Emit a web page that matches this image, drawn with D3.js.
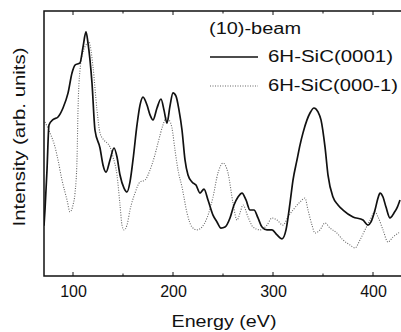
<!DOCTYPE html>
<html>
<head>
<meta charset="utf-8">
<script src="https://cdn.jsdelivr.net/npm/d3@7"></script>
<style>
  html, body { margin: 0; padding: 0; background: #fff; }
  svg { display: block; font-family: "Liberation Sans", Arial, Helvetica, sans-serif; }
</style>
</head>
<body>
<div id="chart"></div>
<script>
// energies (eV) and intensities (arb. units, 0..100)
const energy0001 = [71, 72, 74, 76, 80, 85, 90, 95, 99, 102, 107, 110, 113, 115, 119, 122, 127, 130, 133, 137,
  141, 144, 147, 151, 154, 157, 160, 164, 167, 170, 174, 177, 180, 184, 188, 191, 194, 197, 200, 203,
  206, 209, 212, 215, 219, 223, 227, 231, 235, 240, 244, 248, 252, 257, 261, 265, 269, 273, 277, 281,
  285, 289, 294, 299, 304, 309, 313, 317, 320, 324, 327, 330, 334, 337, 341, 345, 348, 352, 355, 360,
  365, 370, 380, 390, 395, 398, 402, 405, 407, 410, 413, 417, 421, 424, 427]
const intensity0001 = [19, 25, 40, 57, 59, 60, 63.4, 69, 76.6, 79.6, 80.4, 86.4, 92.1, 87.9, 72.8, 55, 48.3, 41.9, 39.2, 43.8,
  48.3, 44.9, 38.1, 33.2, 31.7, 35.5, 43.8, 57, 64.5, 67.5, 64.5, 60.8, 58.9, 63.4, 66.8, 62.6, 57.7, 64.2, 69.1, 67.9,
  62.6, 55.1, 43.8, 38.1, 35.5, 34.3, 31.3, 32.8, 28.7, 23, 20.4, 18.1, 18.5, 21.9, 26.8, 29.8, 31.3, 28.7, 24.9, 24.9,
  21.9, 18.5, 17.4, 17.4, 15.5, 14, 17.4, 27.5, 36.2, 43.8, 49.4, 54, 58.9, 61.5, 63.4, 61.9, 58.9, 48.7, 38.1, 29.8,
  26.8, 24.9, 22.3, 21.1, 19.2, 20.4, 24.9, 29.4, 31.3, 29.8, 26, 21.9, 23.8, 25.7, 28.7]

const energy0001m = [72, 77, 82, 85, 89, 94, 97, 100, 102, 104, 105, 107, 110, 113, 116, 120, 124, 127, 131, 134,
  137, 140, 144, 147, 149, 151, 154, 157, 162, 167, 172, 177, 181, 185, 190, 193, 196, 199, 202, 205,
  209, 214, 219, 224, 229, 234, 240, 245, 250, 255, 260, 264, 267, 270, 275, 280, 287, 294, 299, 304,
  310, 315, 320, 327, 332, 335, 339, 342, 347, 352, 357, 364, 370, 377, 382, 387, 392, 397, 402, 405,
  410, 415, 420, 427]
const intensity0001m = [58.1, 54, 48.7, 43.8, 36.2, 28.7, 24.2, 26.8, 31.3, 43.8, 62.6, 77.7, 84.5, 87.2, 88.3, 78.9, 62.6, 54, 51.3, 50.2,
  48.7, 44.9, 38.1, 26.8, 19.2, 17.4, 19.2, 24.9, 31.3, 35.5, 36.2, 40, 44.5, 50.2, 57, 59.6, 58.9, 55.8, 47.5, 40,
  33.6, 23.8, 18.5, 17.4, 18.5, 21.9, 29.8, 38.9, 42.6, 38.9, 27.5, 21.1, 23.8, 26.8, 22.3, 18.5, 17.4, 19.2, 21.9, 21.1,
  19.2, 22.3, 24.9, 27.9, 29.4, 24.9, 19.2, 16.2, 17.4, 20, 18.1, 16.2, 13.6, 11.7, 10.6, 13.6, 17.4, 21.1, 24.2, 22.3,
  17.4, 12.8, 14.7, 16.6]

const xTickValues = [100, 200, 300, 400]
const xMinorTicks = [150, 250, 350]
const legendTitle = '(10)-beam'
const seriesNames = ['6H-SiC(0001)', '6H-SiC(000-1)']

const W = 401, H = 332
const m = { left: 44, right: 400, top: 11, bottom: 276 }

const x = d3.scaleLinear().domain([71, 427]).range([m.left, m.right])
const y = d3.scaleLinear().domain([0, 100]).range([m.bottom, m.top])

const svg = d3.select('#chart').append('svg')
  .attr('width', W).attr('height', H)

svg.append('defs').append('clipPath').attr('id', 'plot')
  .append('rect').attr('x', m.left).attr('y', m.top).attr('width', W - m.left).attr('height', m.bottom - m.top)

const line = d3.line().curve(d3.curveMonotoneX)
  .x(d => x(d[0])).y(d => y(d[1]))

const g = svg.append('g').attr('clip-path', 'url(#plot)')

g.append('path')
  .datum(d3.zip(energy0001m, intensity0001m))
  .attr('d', line)
  .attr('fill', 'none')
  .attr('stroke', '#666')
  .attr('stroke-width', 1.1)
  .attr('stroke-dasharray', '1,1.5')

g.append('path')
  .datum(d3.zip(energy0001, intensity0001))
  .attr('d', line)
  .attr('fill', 'none')
  .attr('stroke', '#111')
  .attr('stroke-width', 1.7)
  .attr('stroke-linejoin', 'round')

// frame (right side falls outside the picture)
svg.append('path')
  .attr('d', `M${m.right + 4},${m.top}H${m.left}V${m.bottom}H${m.right + 4}`)
  .attr('fill', 'none').attr('stroke', '#111').attr('stroke-width', 1.5)

const xAxis = svg.append('g').attr('transform', `translate(0,${m.bottom})`)
  .call(d3.axisBottom(x).tickValues(xTickValues).tickSize(0).tickPadding(10).tickFormat(d3.format('d')))
xAxis.select('.domain').remove()
xAxis.selectAll('text').attr('font-size', 16).attr('fill', '#111')
  .attr('font-family', '"Liberation Sans", Arial, sans-serif')

// inward tick marks on top and bottom
const allTicks = xTickValues.concat(xMinorTicks)
svg.append('g').selectAll('line').data(allTicks).join('line')
  .attr('x1', d => x(d)).attr('x2', d => x(d))
  .attr('y1', m.bottom).attr('y2', d => m.bottom - (xTickValues.includes(d) ? 4 : 2.5))
  .attr('stroke', '#111').attr('stroke-width', 1)
svg.append('g').selectAll('line').data(allTicks).join('line')
  .attr('x1', d => x(d)).attr('x2', d => x(d))
  .attr('y1', m.top).attr('y2', d => m.top + (xTickValues.includes(d) ? 4 : 2.5))
  .attr('stroke', '#111').attr('stroke-width', 1)

svg.append('text')
  .attr('x', 224).attr('y', 327)
  .attr('text-anchor', 'middle')
  .attr('font-size', 16).attr('fill', '#111')
  .attr('textLength', 105).attr('lengthAdjust', 'spacingAndGlyphs')
  .text('Energy (eV)')

svg.append('text')
  .attr('transform', 'translate(25,137) rotate(-90)')
  .attr('text-anchor', 'middle')
  .attr('font-size', 16).attr('fill', '#111')
  .attr('textLength', 179).attr('lengthAdjust', 'spacingAndGlyphs')
  .text('Intensity (arb. units)')

// legend
const legend = svg.append('g')
legend.append('text')
  .attr('x', 209).attr('y', 34)
  .attr('font-size', 16).attr('fill', '#111')
  .attr('textLength', 92).attr('lengthAdjust', 'spacingAndGlyphs')
  .text(legendTitle)

const rows = [
  { name: seriesNames[0], ly: 57, ty: 62, len: 125, stroke: '#111', sw: 1.7, dash: null },
  { name: seriesNames[1], ly: 86, ty: 91, len: 130, stroke: '#666', sw: 1.1, dash: '1,1.5' }
]
rows.forEach(r => {
  legend.append('line')
    .attr('x1', 210).attr('x2', 258).attr('y1', r.ly).attr('y2', r.ly)
    .attr('stroke', r.stroke).attr('stroke-width', r.sw)
    .attr('stroke-dasharray', r.dash)
  legend.append('text')
    .attr('x', 268).attr('y', r.ty)
    .attr('font-size', 16).attr('fill', '#111')
    .attr('textLength', r.len).attr('lengthAdjust', 'spacingAndGlyphs')
    .text(r.name)
})
</script>
</body>
</html>
